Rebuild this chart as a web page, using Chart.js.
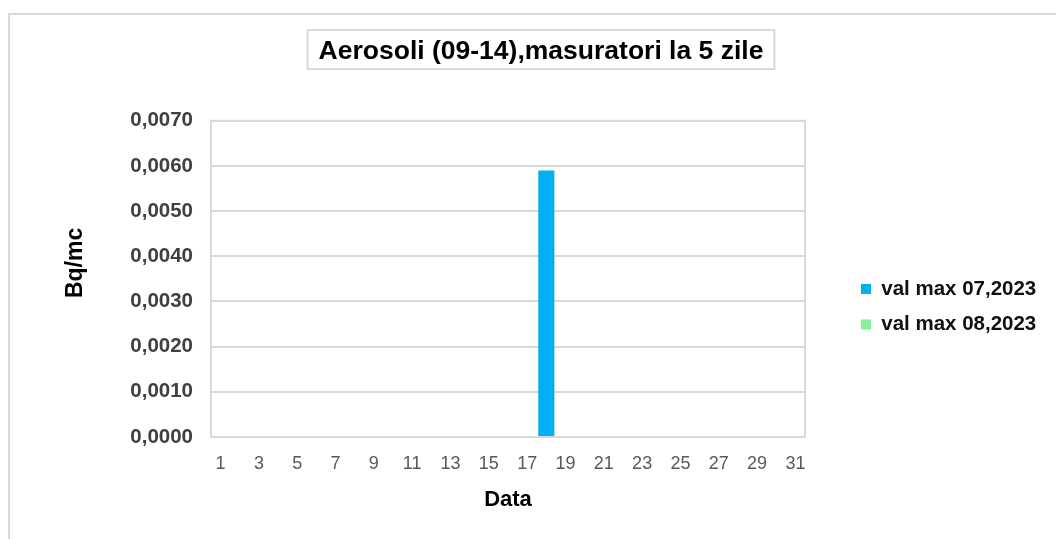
<!DOCTYPE html>
<html>
<head>
<meta charset="utf-8">
<script src="https://cdn.jsdelivr.net/npm/chart.js@4.4.0/dist/chart.umd.min.js"></script>
<style>
  html, body { margin: 0; padding: 0; background: #fff; }
  #wrap { position: relative; width: 1056px; height: 539px; }
</style>
</head>
<body>
<div id="wrap"><canvas id="myChart" width="1056" height="539"></canvas></div>
<script>
const days = [];
for (let d = 1; d <= 31; d++) days.push(String(d));

// val max 07,2023 - only day 18 has a visible value
const julyValues = [null, null, null, null, null, null, null, null, null, null,
                    null, null, null, null, null, null, null, 0.0059, null, null,
                    null, null, null, null, null, null, null, null, null, null, null];
// val max 08,2023 - nothing visible
const augValues = [null, null, null, null, null, null, null, null, null, null,
                   null, null, null, null, null, null, null, null, null, null,
                   null, null, null, null, null, null, null, null, null, null, null];

const yTicks = [0, 0.001, 0.002, 0.003, 0.004, 0.005, 0.006, 0.007];

const FONT = "'Liberation Sans', Arial, sans-serif";
const GRID = "#d9d9d9";

const frame = {
  id: "frame",
  beforeInit(chart) {
    // fixed legend column width
    const fit = chart.legend.fit;
    chart.legend.fit = function () {
      fit.call(this);
      this.width = 196;
    };
  },
  beforeDraw(chart) {
    const ctx = chart.ctx;
    ctx.save();
    ctx.strokeStyle = GRID;
    ctx.lineWidth = 2;
    ctx.strokeRect(9, 14, 1100, 600);
    ctx.restore();
  },
  afterDatasetsDraw(chart) {
    const a = chart.chartArea;
    const ctx = chart.ctx;
    ctx.save();
    ctx.strokeStyle = GRID;
    ctx.lineWidth = 2;
    ctx.strokeRect(a.left, a.top, a.right - a.left, a.bottom - a.top);
    // title box
    const t = chart.titleBlock;
    ctx.font = t.options.font.weight + " " + t.options.font.size + "px " + FONT;
    const w = ctx.measureText(t.options.text).width + 22;
    const cx = (t.left + t.right) / 2;
    ctx.strokeRect(cx - w / 2, 30, w, 39);
    ctx.restore();
  }
};

new Chart("myChart", {
  type: "bar",
  data: {
    labels: days,
    datasets: [{
      label: "val max 07,2023",
      data: julyValues,
      backgroundColor: "#00b0f0",
      categoryPercentage: 1,
      barPercentage: 0.84
    }, {
      label: "val max 08,2023",
      data: augValues,
      backgroundColor: "#86ef9a",
      categoryPercentage: 1,
      barPercentage: 0.84
    }]
  },
  plugins: [frame],
  options: {
    responsive: false,
    animation: false,
    skipNull: true,
    layout: { padding: { left: 40, right: 14, top: 26, bottom: 20 } },
    plugins: {
      title: {
        display: true,
        text: "Aerosoli (09-14),masuratori la 5 zile",
        color: "#000",
        font: { family: FONT, size: 26.5, weight: "bold" },
        padding: { top: 10, bottom: 53 }
      },
      legend: {
        position: "right",
        title: { display: true, text: " ", font: { size: 12 }, padding: { top: 0, bottom: 54 } },
        labels: {
          boxWidth: 10,
          boxHeight: 10,
          padding: 15,
          color: "#111",
          font: { family: FONT, size: 20.5, weight: "bold" }
        }
      },
      tooltip: { enabled: false }
    },
    scales: {
      x: {
        grid: { display: false, drawTicks: false },
        border: { display: false },
        ticks: {
          autoSkip: false,
          maxRotation: 0,
          padding: 16,
          color: "#595959",
          font: { family: FONT, size: 18 },
          callback: (v, i) => (i % 2 === 0 ? days[i] : "")
        },
        title: {
          display: true,
          text: "Data",
          color: "#000",
          font: { family: FONT, size: 22, weight: "bold" },
          padding: { top: 6, bottom: 6 }
        },
        afterFit: s => { s.height = 82; }
      },
      y: {
        min: 0,
        max: 0.007,
        afterBuildTicks: s => { s.ticks = yTicks.map(v => ({ value: v })); },
        grid: { color: GRID, lineWidth: 2, drawTicks: false },
        border: { display: false },
        ticks: {
          padding: 18,
          color: "#404040",
          font: { family: FONT, size: 20.5, weight: "bold" },
          callback: v => v.toFixed(4).replace(".", ",")
        },
        title: {
          display: true,
          text: "     Bq/mc",
          color: "#000",
          font: { family: FONT, size: 23, weight: "bold" },
          padding: { top: 22, bottom: 0 }
        },
        afterFit: s => { s.width = 171; }
      },
      y2: {
        position: "right",
        display: true,
        grid: { display: false, drawTicks: false },
        border: { display: false },
        ticks: { display: false },
        afterFit: s => { s.width = 41; }
      }
    }
  }
});
</script>
</body>
</html>
